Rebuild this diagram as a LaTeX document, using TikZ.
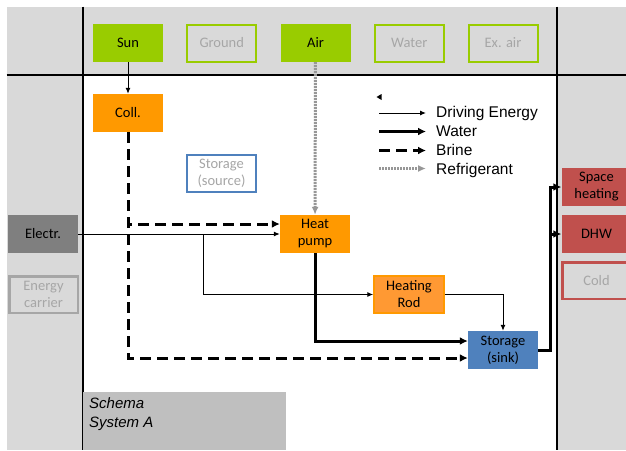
\documentclass[tikz,border=0pt]{standalone}
\usepackage{fontspec}
\setmainfont{Carlito}
\newfontfamily\legendfont{Liberation Sans}
\usepackage{tikz}
\usetikzlibrary{arrows.meta}
\definecolor{srcgreen}{HTML}{99CC00}
\definecolor{hporange}{HTML}{FF9900}
\definecolor{rodorange}{HTML}{FF9933}
\definecolor{stblue}{HTML}{4F81BD}
\definecolor{loadred}{HTML}{C0504D}
\definecolor{bggray}{HTML}{D9D9D9}
\definecolor{elgray}{HTML}{7F7F7F}
\definecolor{offtext}{HTML}{A6A6A6}
\definecolor{schemagray}{HTML}{BFBFBF}
\definecolor{refgray}{HTML}{979797}
\tikzstyle{unit} = [rectangle, minimum width=70pt, minimum height=38pt, inner sep=0pt, align=center, font=\fontsize{14.5}{17}\selectfont]
\tikzstyle{src} = [unit, fill=srcgreen]
\tikzstyle{srcoff} = [unit, fill=bggray, draw=srcgreen, line width=2pt, minimum width=69pt, minimum height=37pt, text=offtext]
\tikzstyle{heater} = [unit, fill=hporange]
\tikzstyle{rodbox} = [unit, fill=rodorange, draw=hporange, line width=1.5pt, minimum width=70pt, minimum height=37pt]
\tikzstyle{store} = [unit, fill=stblue]
\tikzstyle{storeoff} = [unit, fill=white, draw=stblue, line width=2pt, minimum width=69pt, minimum height=37pt, text=offtext]
\tikzstyle{carrier} = [unit, fill=elgray]
\tikzstyle{carrieroff} = [unit, fill=bggray, draw=offtext, line width=2.5pt, minimum width=68.5pt, minimum height=36.5pt, text=offtext]
\tikzstyle{load} = [unit, fill=loadred]
\tikzstyle{loadoff} = [unit, fill=bggray, draw=loadred, line width=2.5pt, minimum width=68.5pt, minimum height=36.5pt, text=offtext]
\tikzstyle{frame} = [line width=1.5pt]
\tikzstyle{drive} = [line width=1pt, -{Latex[length=6pt,width=5pt]}]
\tikzstyle{water} = [line width=3pt, -{Latex[length=8pt,width=8pt]}]
\tikzstyle{brine} = [line width=3pt, dash pattern=on 11pt off 6pt, -{Latex[length=8pt,width=8pt]}]
\tikzstyle{refrig} = [line width=3pt, draw=refgray, dash pattern=on 2pt off 1pt, -{Latex[length=8pt,width=7pt]}]
\tikzstyle{legend} = [anchor=base west, inner sep=0pt, font=\legendfont\fontsize{15.5}{18}\selectfont]
\tikzstyle{schema} = [rectangle, fill=schemagray, minimum width=203pt, minimum height=58pt, inner sep=0pt]
\tikzstyle{schematext} = [anchor=north west, inner sep=0pt, align=left, font=\legendfont\itshape\fontsize{15}{19}\selectfont]

\begin{document}
\begin{tikzpicture}[x=1pt, y=-1pt, node distance=93.75pt]
    \useasboundingbox (0,0) rectangle (626,450);
    \clip (0,0) rectangle (626,450);
    % frame
    \fill[bggray] (6.5,6.5) rectangle (626,450);
    \fill[white] (83,75) rectangle (557,450);
    \draw[frame] (6.5,75) -- (626,75);
    \draw[frame] (83,6.5) -- (83,450);
    \draw[frame] (557,6.5) -- (557,450);

    % sources
    \node (sun) [src] at (128,43) {Sun};
    \node (ground) [srcoff, right of=sun] {Ground};
    \node (air) [src, right of=ground] {Air};
    \node (water) [srcoff, right of=air] {Water};
    \node (exair) [srcoff, right of=water] {Ex. air};

    % units
    \node (coll) [heater, below of=sun, node distance=70pt] {Coll.};
    \node (source) [storeoff] at (221.5,173.5) {Storage\\(source)};
    \node (hp) [heater] at (315,234) {Heat\\pump};
    \node (rod) [rodbox] at (409,294.5) {Heating\\Rod};
    \node (sink) [store] at (503,350) {Storage\\(sink)};

    % carriers and loads
    \node (electr) [carrier] at (43,234) {Electr.};
    \node (carrier) [carrieroff] at (43.5,294.5) {Energy\\carrier};
    \node (space) [load] at (596.5,187) {Space\\heating};
    \node (dhw) [load] at (596.5,234) {DHW};
    \node (cold) [loadoff] at (596.5,280.5) {Cold};

    % connections
    \coordinate (ebranch) at (203,234);
    \coordinate (hub) at (550,350);
    \draw [drive] (sun) -- (coll);
    \draw [refrig] (air) -- (hp);
    \draw [drive] (electr) -- (hp);
    \draw [drive] (ebranch) |- (rod);
    \draw [drive] (rod) -| (sink);
    \draw [brine] (coll) |- ([yshift=10pt]hp.west);
    \draw [brine] (coll) |- ([yshift=-8pt]sink.west);
    \draw [water] (hp) |- ([yshift=9pt]sink.west);
    \draw [water] (sink) -- (hub) |- (space);
    \draw [water] (hub) |- (dhw);

    % legend
    \fill (376.5,97) -- (381.5,94) -- (381.5,100) -- cycle;
    \coordinate (lg1a) at (379,113);
    \coordinate (lg1b) at (426,113);
    \coordinate (lg2a) at (379,131.5);
    \coordinate (lg2b) at (426,131.5);
    \coordinate (lg3a) at (379,150.5);
    \coordinate (lg3b) at (426,150.5);
    \coordinate (lg4a) at (379,168.5);
    \coordinate (lg4b) at (426,168.5);
    \draw [drive] (lg1a) -- (lg1b);
    \draw [water] (lg2a) -- (lg2b);
    \draw [brine] (lg3a) -- (lg3b);
    \draw [refrig] (lg4a) -- (lg4b);
    \node (lg1) [legend] at (436,117) {Driving Energy};
    \node (lg2) [legend] at (436,136.5) {Water};
    \node (lg3) [legend] at (436,155) {Brine};
    \node (lg4) [legend] at (436,174) {Refrigerant};

    % title
    \node (schemabox) [schema] at (184.5,421) {};
    \node (schematxt) [schematext] at (89,397) {Schema\\System A};
\end{tikzpicture}
\end{document}
